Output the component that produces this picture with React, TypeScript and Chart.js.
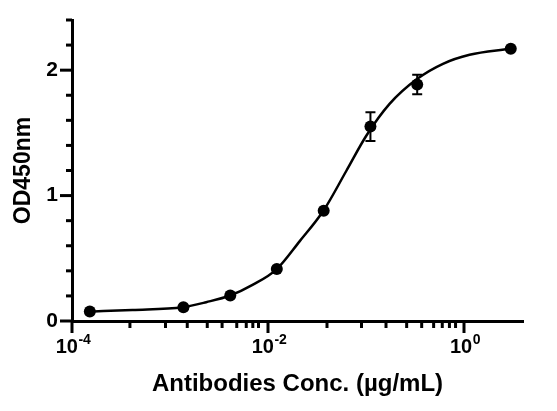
import { Chart, registerables } from 'chart.js';
import { useEffect, useRef } from 'react';

Chart.register(...registerables);

// concentrations (µg/mL) and mean OD450
const concentrations = [0.000152, 0.00137, 0.00412, 0.0123, 0.037, 0.111, 0.333, 3];
const od450 = [0.075, 0.11, 0.203, 0.414, 0.88, 1.55, 1.885, 2.17];
const od450Err = [0, 0, 0, 0, 0, 0.115, 0.078, 0];

// fitted curve
const fitX = [1.48e-4, 4.13e-4, 1.35e-3, 2.34e-3, 4.11e-3, 6.95e-3, 1.23e-2, 2.1e-2,
    3.69e-2, 6.29e-2, 0.1007, 0.174, 0.334, 0.61, 1.14, 2.93];
const fitY = [0.0745, 0.088, 0.11, 0.15, 0.203, 0.288, 0.414, 0.635,
    0.881, 1.196, 1.477, 1.731, 1.931, 2.051, 2.123, 2.171];

// axis ticks
const xMajorTicks = [1e-4, 1e-2, 1];
const xTickExponents = ['-4', '-2', '0'];
const xMinorTicks = [
    3.9e-4, 9e-4, 1.5e-3, 2.4e-3, 3.4e-3, 4.8e-3, 6e-3, 7e-3, 8e-3,
    0.04, 0.09, 0.16, 0.26, 0.37, 0.49, 0.6, 0.71, 0.82,
];

const FONT = '"Liberation Sans", Arial, sans-serif';

const isWhole = (v: number) => Math.abs(v - Math.round(v)) < 1e-6;

const noScalePadding = (scale: any) => {
    scale.paddingTop = 0;
    scale.paddingBottom = 0;
    scale.paddingLeft = 0;
    scale.paddingRight = 0;
};

const errorBars = {
    id: 'errorBars',
    afterDatasetsDraw(chart: any) {
        const { ctx, scales } = chart;
        const meta = chart.getDatasetMeta(1);
        ctx.save();
        ctx.strokeStyle = '#000';
        ctx.lineWidth = 2;
        meta.data.forEach((pt: any, i: number) => {
            const err = od450Err[i];
            if (!err) return;
            const top = scales.y.getPixelForValue(od450[i] + err);
            const bottom = scales.y.getPixelForValue(od450[i] - err);
            ctx.beginPath();
            ctx.moveTo(pt.x, top);
            ctx.lineTo(pt.x, bottom);
            ctx.moveTo(pt.x - 5, top);
            ctx.lineTo(pt.x + 5, top);
            ctx.moveTo(pt.x - 5, bottom);
            ctx.lineTo(pt.x + 5, bottom);
            ctx.stroke();
        });
        ctx.restore();
    },
};

const axisDecor = {
    id: 'axisDecor',
    afterDraw(chart: any) {
        const { ctx, chartArea, scales } = chart;
        const xs = scales.x;
        const ys = scales.y;
        ctx.save();
        ctx.strokeStyle = '#000';
        ctx.lineWidth = 3;

        ys.ticks.forEach((t: any) => {
            const py = ys.getPixelForValue(t.value);
            const len = isWhole(t.value) ? 12 : 6;
            ctx.beginPath();
            ctx.moveTo(chartArea.left, py);
            ctx.lineTo(chartArea.left - len, py);
            ctx.stroke();
        });

        xs.ticks.forEach((t: any) => {
            const px = xs.getPixelForValue(t.value);
            const len = xMajorTicks.includes(t.value) ? 12 : 7;
            ctx.beginPath();
            ctx.moveTo(px, chartArea.bottom);
            ctx.lineTo(px, chartArea.bottom + len);
            ctx.stroke();
        });

        // 10^n labels
        ctx.fillStyle = '#000';
        ctx.textAlign = 'left';
        ctx.textBaseline = 'alphabetic';
        xMajorTicks.forEach((v, i) => {
            const px = xs.getPixelForValue(v);
            ctx.font = `bold 20px ${FONT}`;
            const wb = ctx.measureText('10').width;
            ctx.font = `bold 14px ${FONT}`;
            const we = ctx.measureText(xTickExponents[i]).width;
            const start = px - (wb + we) / 2 + 1;
            ctx.font = `bold 20px ${FONT}`;
            ctx.fillText('10', start, chartArea.bottom + 32);
            ctx.font = `bold 14px ${FONT}`;
            ctx.fillText(xTickExponents[i], start + wb + 0.5, chartArea.bottom + 22.5);
        });
        ctx.restore();
    },
};

export default function App() {
    const chartRef = useRef<HTMLCanvasElement>(null);
    const chartInstance = useRef<Chart | null>(null);

    useEffect(() => {
        if (!chartRef.current) return;
        if (chartInstance.current) chartInstance.current.destroy();

        chartInstance.current = new Chart(chartRef.current, {
            type: 'line',
            data: {
                datasets: [
                    {
                        data: fitX.map((c, i) => ({ x: c, y: fitY[i] })),
                        borderColor: '#000',
                        borderWidth: 2.5,
                        pointRadius: 0,
                        cubicInterpolationMode: 'monotone',
                        fill: false,
                    },
                    {
                        data: concentrations.map((c, i) => ({ x: c, y: od450[i] })),
                        showLine: false,
                        backgroundColor: '#000',
                        pointBackgroundColor: '#000',
                        pointBorderColor: '#000',
                        pointRadius: 6,
                        pointBorderWidth: 0,
                    }
                ]
            },
            options: {
                animation: false,
                responsive: false,
                layout: {
                    padding: { left: 0, right: 34, top: 20, bottom: 0 }
                },
                plugins: {
                    legend: { display: false },
                    tooltip: { enabled: false }
                },
                scales: {
                    x: {
                        type: 'logarithmic',
                        min: 1e-4,
                        max: 4,
                        afterBuildTicks: (scale: any) => {
                            scale.ticks = [...xMajorTicks, ...xMinorTicks]
                                .sort((a, b) => a - b)
                                .map(value => ({ value }));
                        },
                        afterFit: (scale: any) => {
                            scale.height = 90;
                            noScalePadding(scale);
                        },
                        grid: { display: true, drawOnChartArea: false, drawTicks: false },
                        border: { display: true, color: '#000', width: 3 },
                        ticks: { display: false },
                        title: {
                            display: true,
                            text: 'Antibodies Conc. (µg/mL)',
                            color: '#000',
                            font: { family: FONT, size: 24, weight: 'bold' },
                            padding: { top: 0, bottom: 12 }
                        }
                    },
                    y: {
                        min: 0,
                        max: 2.4,
                        afterFit: (scale: any) => {
                            scale.width = 72;
                            noScalePadding(scale);
                        },
                        grid: { display: true, drawOnChartArea: false, drawTicks: false },
                        border: { display: true, color: '#000', width: 3 },
                        ticks: {
                            stepSize: 0.2,
                            autoSkip: false,
                            padding: 14,
                            color: '#000',
                            font: { family: FONT, size: 21, weight: 'bold' },
                            callback: (v: any) => (isWhole(Number(v)) ? String(Math.round(Number(v))) : '')
                        },
                        title: {
                            display: true,
                            text: 'OD450nm',
                            color: '#000',
                            font: { family: FONT, size: 23, weight: 'bold' },
                            padding: { top: 10, bottom: 0 }
                        }
                    }
                }
            },
            plugins: [errorBars, axisDecor]
        });

        return () => {
            if (chartInstance.current) {
                chartInstance.current.destroy();
                chartInstance.current = null;
            }
        };
    }, []);

    return (
        <div style={{ position: 'absolute', left: 0, top: 0, width: 557, height: 411, background: '#fff' }}>
            <canvas ref={chartRef} width={557} height={411} style={{ display: 'block' }}></canvas>
        </div>
    );
}
